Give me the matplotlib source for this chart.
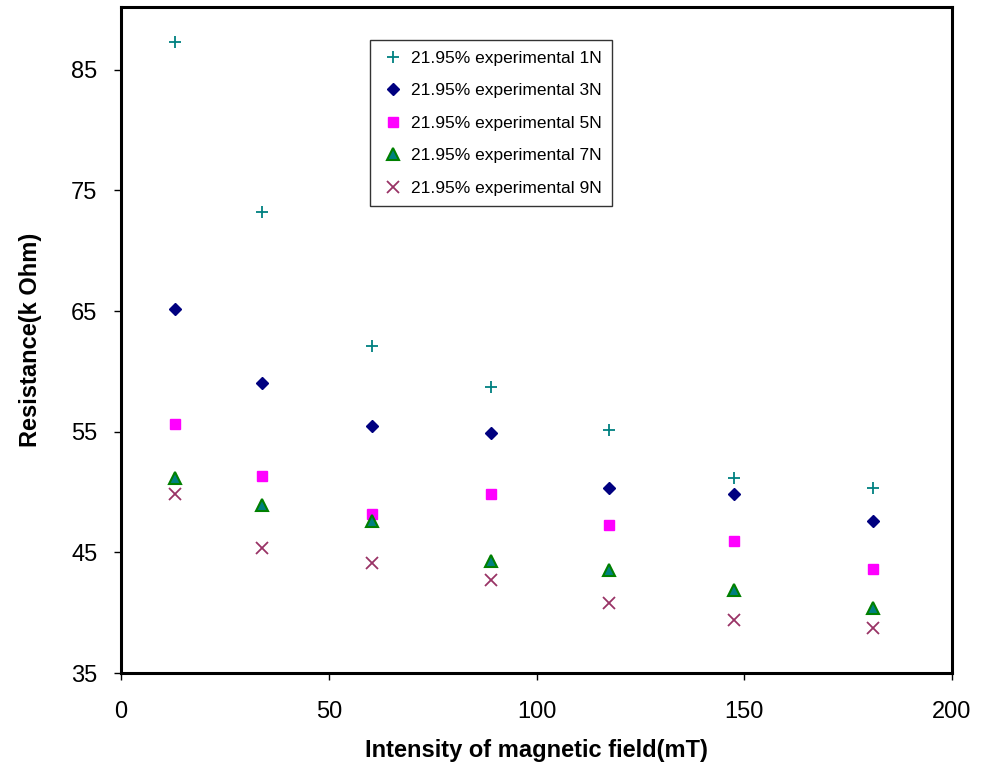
import matplotlib
matplotlib.use("Agg")
import matplotlib.pyplot as plt
from matplotlib import font_manager

fams = {f.name for f in font_manager.fontManager.ttflist}
narrow = 'Liberation Sans Narrow' if 'Liberation Sans Narrow' in fams else 'Liberation Sans'

x = [13, 34, 60.5, 89, 117.5, 147.5, 181]
r1 = [87.3, 73.2, 62.1, 58.7, 55.1, 51.2, 50.3]
r3 = [65.2, 59.0, 55.5, 54.9, 50.3, 49.8, 47.6]
r5 = [55.6, 51.3, 48.2, 49.8, 47.3, 45.9, 43.6]
r7 = [51.2, 48.9, 47.6, 44.3, 43.5, 41.9, 40.4]
r9 = [49.8, 45.4, 44.1, 42.7, 40.8, 39.4, 38.7]
labels = ['21.95% experimental 1N', '21.95% experimental 3N', '21.95% experimental 5N',
          '21.95% experimental 7N', '21.95% experimental 9N']

fig = plt.figure(figsize=(9.82, 7.66), dpi=100)
ax = fig.add_axes([121/982, 1-673/766, (952-121)/982, (673-7)/766])

ax.plot(x, r1, linestyle='none', marker='+', ms=9, mew=1.3, color='#008080', label=labels[0])
ax.plot(x, r3, linestyle='none', marker='D', ms=6.5, color='#000080', label=labels[1])
ax.plot(x, r5, linestyle='none', marker='s', ms=7, color='#FF00FF', label=labels[2])
ax.plot(x, r7, linestyle='none', marker='^', ms=8, mfc='#008080', mec='#008000', mew=1.5, label=labels[3])
ax.plot(x, r9, linestyle='none', marker='x', ms=8, mew=1.3, color='#993366', label=labels[4])

ax.set_xlim(0, 200)
ax.set_ylim(35, 90.2)
ax.set_xticks([0, 50, 100, 150, 200])
ax.set_yticks([35, 45, 55, 65, 75, 85])
for s in ax.spines.values():
    s.set_linewidth(2.2)
    s.set_color('black')
ax.tick_params(direction='out', length=5, width=1, labelsize=17)
ax.tick_params(axis='x', pad=15)
ax.tick_params(axis='y', pad=12)
for lab in ax.get_xticklabels() + ax.get_yticklabels():
    lab.set_fontfamily(narrow)

ax.set_xlabel('Intensity of magnetic field(mT)', fontsize=17, fontweight='bold', family=narrow, labelpad=12)
ax.set_ylabel('Resistance(k Ohm)', fontsize=17, fontweight='bold', family=narrow, labelpad=21)

leg = ax.legend(loc='upper left', bbox_to_anchor=(0.2996, 0.95), fontsize=12.5, frameon=True,
                fancybox=False, edgecolor='black', borderpad=0.6, labelspacing=1.0,
                handletextpad=0.35, handlelength=1.4, borderaxespad=0)
leg.get_frame().set_linewidth(1)
for t in leg.get_texts():
    t.set_fontfamily('Liberation Sans')

fig.savefig('out.png', dpi=100)
